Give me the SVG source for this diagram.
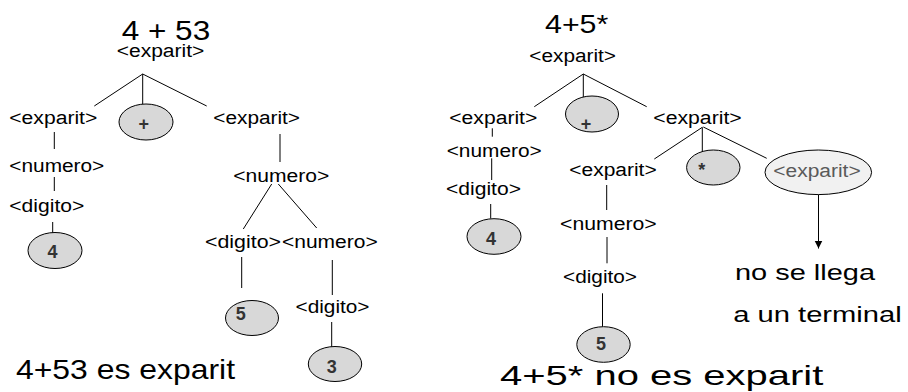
<svg xmlns="http://www.w3.org/2000/svg" width="908" height="392" viewBox="0 0 908 392">
<defs>
<style>
text{font-family:"Liberation Sans",Arial,sans-serif;fill:#000}
.lb{font-size:18px}
.big{font-size:28px}
.mid{font-size:22px}
.tk{font-size:18px;font-weight:bold;fill:#333;text-anchor:middle}
.el{fill:#d8d8d8;stroke:#000;stroke-width:1}
.el2{fill:#f1f1f1;stroke:#000;stroke-width:1}
.ln line{stroke:#000;stroke-width:1;fill:none}
</style>
<marker id="ah" viewBox="0 0 10 10" refX="10" refY="5" markerWidth="8" markerHeight="9" markerUnits="userSpaceOnUse" orient="auto">
<path d="M0,0 L10,5 L0,10 z" fill="#000"/>
</marker>
</defs>
<rect width="908" height="392" fill="#fff"/>

<g id="connectors" class="ln">
<line x1="142.7" y1="74" x2="94.3" y2="106"/>
<line x1="142.7" y1="74" x2="142.7" y2="104"/>
<line x1="142.7" y1="74" x2="206.7" y2="106"/>
<line x1="54.3" y1="132" x2="54.3" y2="149"/>
<line x1="54.3" y1="177" x2="54.3" y2="191"/>
<line x1="52.7" y1="222" x2="52.7" y2="233"/>
<line x1="280" y1="134" x2="280" y2="162"/>
<line x1="271.7" y1="184" x2="243.3" y2="229"/>
<line x1="278.3" y1="184" x2="316.7" y2="228"/>
<line x1="241.7" y1="257" x2="241.7" y2="288"/>
<line x1="332.3" y1="260" x2="332.3" y2="295"/>
<line x1="331.7" y1="322" x2="331.7" y2="347"/>
<line x1="583.3" y1="74" x2="534.3" y2="106.7"/>
<line x1="583.3" y1="74" x2="583.3" y2="105"/>
<line x1="583.3" y1="74" x2="646.7" y2="106.7"/>
<line x1="492.3" y1="128.3" x2="492.3" y2="136.7"/>
<line x1="491.7" y1="158.3" x2="491.7" y2="180"/>
<line x1="490.7" y1="204" x2="490.7" y2="218.5"/>
<line x1="702.3" y1="127.3" x2="654.3" y2="159"/>
<line x1="702.3" y1="127.3" x2="702.3" y2="169"/>
<line x1="703.3" y1="127" x2="766.7" y2="158.3"/>
<line x1="606.7" y1="185" x2="606.7" y2="210"/>
<line x1="607" y1="237" x2="607" y2="263.3"/>
<line x1="602.5" y1="293.3" x2="602.5" y2="326.7"/>
<line x1="818.5" y1="194.5" x2="818.5" y2="248.5" marker-end="url(#ah)"/>
</g>

<g id="left-tree">
<g id="l-title"><text class="big" x="121.7" y="39.5" textLength="88.5" lengthAdjust="spacingAndGlyphs">4 + 53</text></g>
<g id="l-root"><text class="lb" x="116.7" y="57" textLength="87.6" lengthAdjust="spacingAndGlyphs">&lt;exparit&gt;</text></g>
<g id="l-exp1"><text class="lb" x="9.3" y="124" textLength="88" lengthAdjust="spacingAndGlyphs">&lt;exparit&gt;</text></g>
<g id="l-plus"><ellipse class="el" cx="146" cy="122" rx="27" ry="18"/><text class="tk" x="143.8" y="130.4">+</text></g>
<g id="l-exp2"><text class="lb" x="213.3" y="124" textLength="86.7" lengthAdjust="spacingAndGlyphs">&lt;exparit&gt;</text></g>
<g id="l-num1"><text class="lb" x="9.3" y="172" textLength="95" lengthAdjust="spacingAndGlyphs">&lt;numero&gt;</text></g>
<g id="l-dig1"><text class="lb" x="9.3" y="212" textLength="75" lengthAdjust="spacingAndGlyphs">&lt;digito&gt;</text></g>
<g id="l-four"><ellipse class="el" cx="55" cy="250.5" rx="27" ry="18"/><text class="tk" x="52.5" y="258">4</text></g>
<g id="l-num2"><text class="lb" x="233.3" y="182" textLength="96" lengthAdjust="spacingAndGlyphs">&lt;numero&gt;</text></g>
<g id="l-dig2"><text class="lb" x="205" y="248" textLength="76" lengthAdjust="spacingAndGlyphs">&lt;digito&gt;</text></g>
<g id="l-num3"><text class="lb" x="282" y="248" textLength="95.7" lengthAdjust="spacingAndGlyphs">&lt;numero&gt;</text></g>
<g id="l-five"><ellipse class="el" cx="252" cy="318" rx="26.5" ry="17.5"/><text class="tk" x="240.7" y="319.5">5</text></g>
<g id="l-dig3"><text class="lb" x="295.5" y="313" textLength="74" lengthAdjust="spacingAndGlyphs">&lt;digito&gt;</text></g>
<g id="l-three"><ellipse class="el" cx="335" cy="364" rx="26.7" ry="17.5"/><text class="tk" x="331.7" y="373">3</text></g>
<g id="l-caption"><text class="big" x="16" y="379" textLength="219" lengthAdjust="spacingAndGlyphs">4+53 es exparit</text></g>
</g>

<g id="right-tree">
<g id="r-title"><text style="font-size:26px" x="545" y="33" textLength="63.3" lengthAdjust="spacingAndGlyphs">4+5*</text></g>
<g id="r-root"><text class="lb" x="529.3" y="62" textLength="86.7" lengthAdjust="spacingAndGlyphs">&lt;exparit&gt;</text></g>
<g id="r-exp1"><text class="lb" x="449.3" y="124" textLength="88" lengthAdjust="spacingAndGlyphs">&lt;exparit&gt;</text></g>
<g id="r-plus"><ellipse class="el" cx="592" cy="114" rx="26.5" ry="18"/><text class="tk" x="586" y="130">+</text></g>
<g id="r-exp2"><text class="lb" x="653.3" y="124" textLength="88.4" lengthAdjust="spacingAndGlyphs">&lt;exparit&gt;</text></g>
<g id="r-num1"><text class="lb" x="446.7" y="157" textLength="95" lengthAdjust="spacingAndGlyphs">&lt;numero&gt;</text></g>
<g id="r-dig1"><text class="lb" x="446" y="195" textLength="75" lengthAdjust="spacingAndGlyphs">&lt;digito&gt;</text></g>
<g id="r-four"><ellipse class="el" cx="494" cy="236.5" rx="27" ry="17.8"/><text class="tk" x="491" y="245">4</text></g>
<g id="r-exp3"><text class="lb" x="569.3" y="176" textLength="87.4" lengthAdjust="spacingAndGlyphs">&lt;exparit&gt;</text></g>
<g id="r-star"><ellipse class="el" cx="713.3" cy="167.5" rx="26.7" ry="17.5"/><text class="tk" x="701.7" y="176">*</text></g>
<g id="r-exp4"><ellipse class="el2" cx="818.3" cy="172.3" rx="53.3" ry="22.3"/><text class="lb" x="773.3" y="177" textLength="87.4" lengthAdjust="spacingAndGlyphs" style="fill:#5a5a5a">&lt;exparit&gt;</text></g>
<g id="r-num2"><text class="lb" x="560" y="230" textLength="96.7" lengthAdjust="spacingAndGlyphs">&lt;numero&gt;</text></g>
<g id="r-dig2"><text class="lb" x="563" y="283" textLength="74" lengthAdjust="spacingAndGlyphs">&lt;digito&gt;</text></g>
<g id="r-five"><ellipse class="el" cx="603.5" cy="344.5" rx="26.7" ry="17.8"/><text class="tk" x="601" y="350">5</text></g>
<g id="r-note"><text class="mid" x="735" y="280" textLength="140" lengthAdjust="spacingAndGlyphs">no se llega</text><text class="mid" x="733.3" y="322" textLength="168.4" lengthAdjust="spacingAndGlyphs">a un terminal</text></g>
<g id="r-caption"><text style="font-size:28px" x="500" y="385" textLength="323.3" lengthAdjust="spacingAndGlyphs">4+5* no es exparit</text></g>
</g>
</svg>
